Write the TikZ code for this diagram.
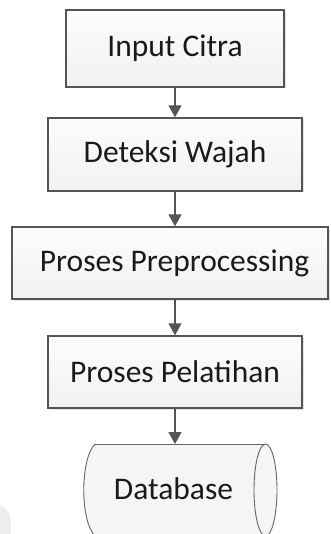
\documentclass[tikz,border=0pt]{standalone}
\usepackage{fontspec}
\setmainfont{Carlito}
\usetikzlibrary{arrows.meta,shadows}
\definecolor{edge}{HTML}{555555}
\definecolor{txt}{HTML}{1A1A1A}
\definecolor{dbedge}{HTML}{666666}
\definecolor{dbfill}{HTML}{F5F5F5}
\tikzset{
  procbox/.style={draw=edge, line width=1.4pt, top color=gray!2, bottom color=gray!11,
    font=\fontsize{31.5}{36}\selectfont, text=txt, inner sep=0pt,
    drop shadow={shadow xshift=1.5pt, shadow yshift=-1.5pt, fill=gray!60, opacity=0.35}},
  flowarrow/.style={draw=edge, line width=1.4pt, -{Triangle[length=12pt,width=13pt]}},
  dbline/.style={draw=dbedge, line width=0.9pt},
  dblabel/.style={font=\fontsize{31.5}{36}\selectfont, text=txt, inner sep=0pt}
}
\begin{document}
\begin{tikzpicture}[x=1pt,y=-1pt]
\useasboundingbox (0,0) rectangle (330,534);
\fill[gray!14] (0,506) .. controls (7,507) and (10,514) .. (11,522) -- (11,534) -- (0,534) -- cycle;
\node[procbox, minimum width=218pt, minimum height=77pt] (b1) at (175,48.5) {Input Citra};
\node[procbox, minimum width=254pt, minimum height=73pt] (b2) at (175,154.5) {Deteksi Wajah};
\node[procbox, minimum width=316pt, minimum height=72pt] (b3) at (170,263) {\hspace*{9pt}Proses Preprocessing};
\node[procbox, minimum width=254pt, minimum height=72pt] (b4) at (175,372) {Proses Pelatihan};
% database shape
\fill[dbfill] (95,444) -- (265.5,444) arc[start angle=-90, end angle=90, x radius=11.5, y radius=46] -- (95,536) .. controls (80,521) and (80,459) .. (95,444) -- cycle;
\draw[dbline] (95,444) -- (265.5,444);
\draw[dbline] (95,536) -- (265.5,536);
\draw[dbline] (95,444) .. controls (80,459) and (80,521) .. (95,536);
\draw[dbline] (265.5,490) ellipse[x radius=11.5, y radius=46];
\node[dblabel] (db) at (173.5,489) {Database};
\coordinate (dbtop) at (175,444);
\draw[flowarrow] (b1.south) -- (b2.north);
\draw[flowarrow] (b2.south) -- (b2.south |- b3.north);
\draw[flowarrow] (b2.south |- b3.south) -- (b4.north);
\draw[flowarrow] (b4.south) -- (dbtop);
\end{tikzpicture}
\end{document}
